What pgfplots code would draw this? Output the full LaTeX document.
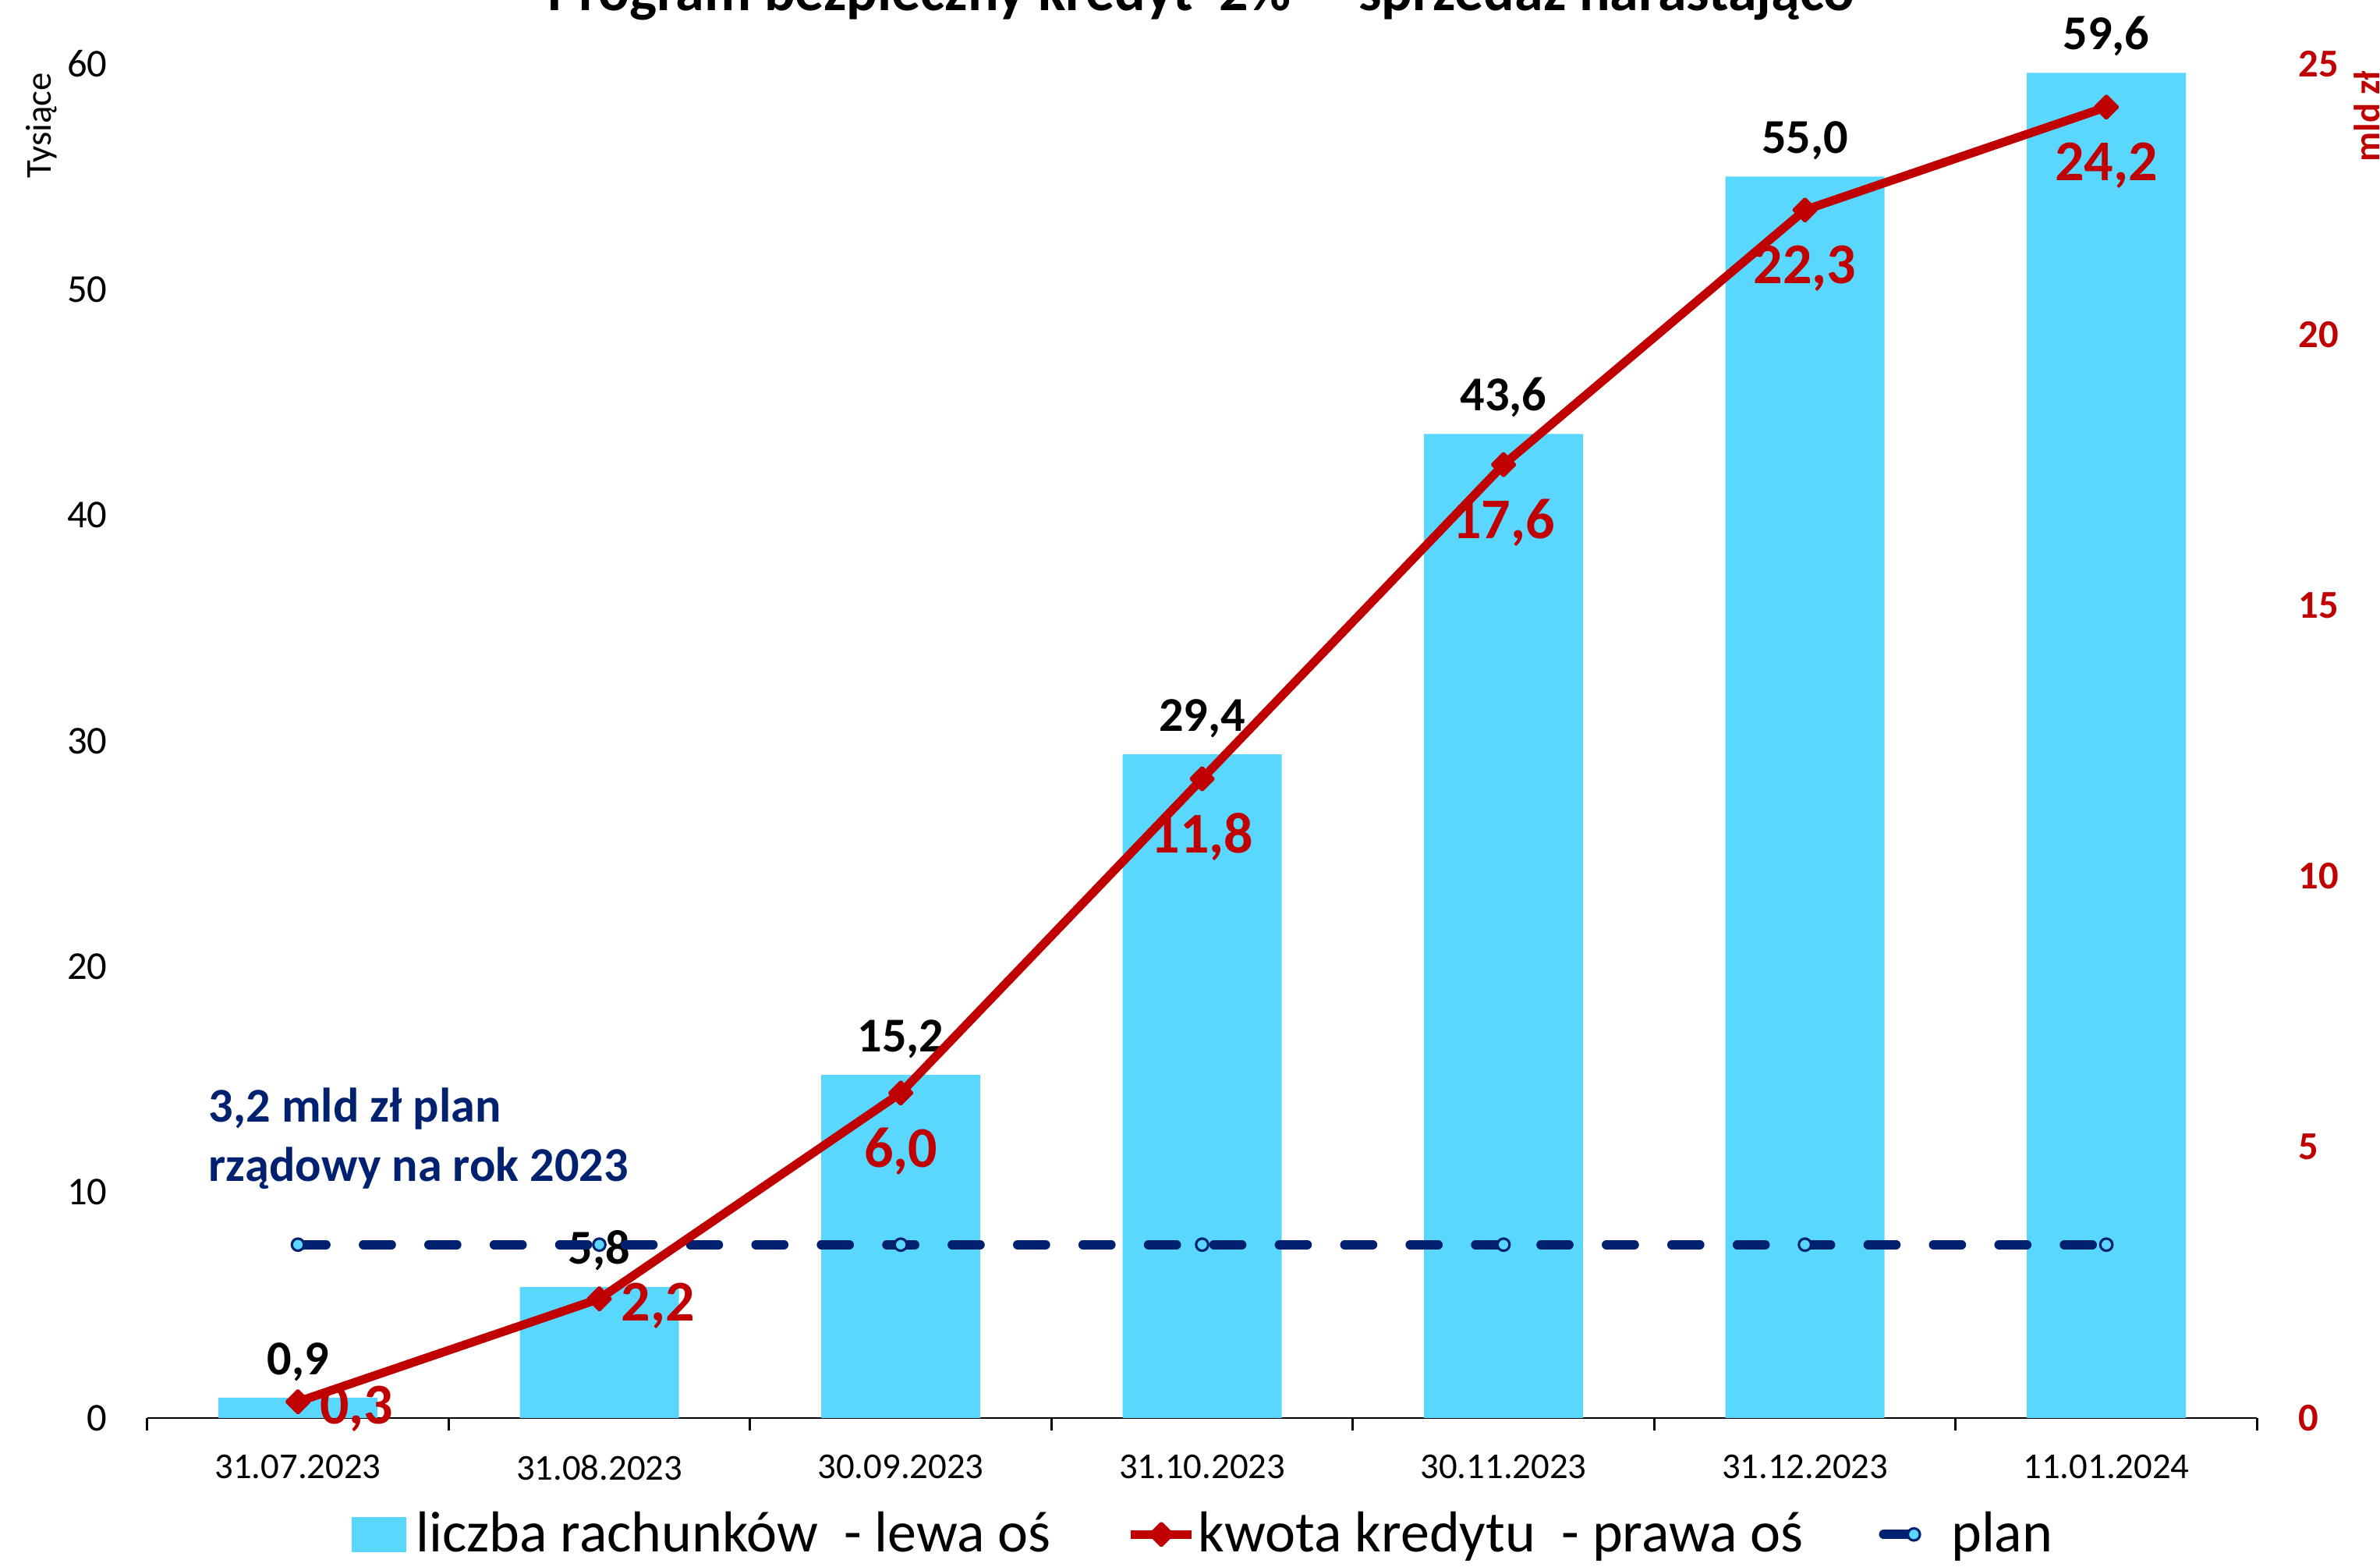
\documentclass[border=0pt]{standalone}
\usepackage{pgfplots}
\pgfplotsset{compat=1.18}
\usepackage{fontspec}
\setmainfont{Carlito}
\definecolor{barcyan}{RGB}{90,215,255}
\definecolor{kred}{RGB}{192,0,0}
\definecolor{navy}{RGB}{0,32,112}
\begin{document}
\begin{tikzpicture}
\begin{axis}[
  scale only axis, width=695pt, height=446pt,
  at={(0pt,0pt)}, anchor=south west,
  clip=false,
  xmin=-0.5, xmax=6.5, ymin=0, ymax=60,
  axis x line*=bottom, axis y line*=left,
  x axis line style={-, line width=0.7pt, black},
  y axis line style={draw=none},
  xtick={0,1,2,3,4,5,6},
  xticklabels={31.07.2023,31.08.2023,30.09.2023,31.10.2023,30.11.2023,31.12.2023,11.01.2024},
  xtick style={draw=none},
  xticklabel style={font=\fontsize{12}{12}\selectfont, inner sep=0pt, anchor=north, yshift=-12pt},
  extra x ticks={-0.5,0.5,1.5,2.5,3.5,4.5,5.5,6.5},
  extra x tick labels={},
  extra x tick style={xtick align=outside, major tick length=4pt, xtick style={draw=black, line width=0.7pt}},
  ytick={0,10,20,30,40,50,60},
  ytick style={draw=none},
  yticklabel style={font=\fontsize{13}{13}\selectfont, inner sep=0pt, anchor=east, xshift=-13pt},
  /pgf/number format/assume math mode=true,
]
\addplot[ybar, bar width=52.4pt, fill=barcyan, draw=none,
  nodes near coords={\pgfmathprintnumber[fixed,fixed zerofill,precision=1,use comma]{\pgfplotspointmeta}},
  every node near coord/.append style={font=\fontsize{16}{16}\selectfont\bfseries, text=black, anchor=base, inner sep=0pt, yshift=7.6pt}]
coordinates {(0,0.9) (1,5.8) (2,15.2) (3,29.4) (4,43.6) (5,55.0) (6,59.6)};
\end{axis}
\begin{axis}[
  scale only axis, width=695pt, height=446pt,
  at={(0pt,0pt)}, anchor=south west,
  clip=false,
  xmin=-0.5, xmax=6.5, ymin=0, ymax=25,
  axis x line=none, axis y line*=right,
  y axis line style={draw=none},
  ytick={0,5,10,15,20,25},
  ytick style={draw=none},
  yticklabel style={font=\fontsize{13}{13}\selectfont\bfseries, text=kred, inner sep=0pt, anchor=west, xshift=13.5pt},
  /pgf/number format/assume math mode=true,
  legend columns=3,
  legend cell align=left,
  legend style={at={(0.5,0)}, anchor=north, yshift=-31pt, draw=none, fill=none,
    inner sep=0pt, outer sep=0pt,
    font=\fontsize{19}{19}\selectfont,
    nodes={inner sep=0pt},
    /tikz/every odd column/.append style={column sep=0.8pt},
    /tikz/every even column/.append style={column sep=25pt}},
]
\addlegendimage{legend image code/.code={\fill[barcyan] (0pt,-5.6pt) rectangle (17.5pt,5.6pt); \path (20pt,0pt);}}
\addlegendentry{liczba rachunków~ - lewa oś}
\addlegendimage{legend image code/.code={%
  \draw[kred, line width=2.85pt] (0pt,0pt) -- (20pt,0pt);
  \draw[kred, mark=square*, mark size=2.6pt, mark options={rotate=45, solid, line width=1pt, line join=round, fill=kred, draw=kred}] plot coordinates {(10pt,0pt)};}}
\addlegendentry{kwota kredytu~ - prawa oś}
\addlegendimage{legend image code/.code={%
  \draw[navy, line width=3pt, dash pattern=on 9.25pt off 12.3pt, line cap=round] (0pt,0pt) -- (20pt,0pt);
  \draw[navy, mark=*, mark size=2pt, mark options={solid, fill=barcyan, draw=navy, line width=0.8pt}] plot coordinates {(10pt,0pt)};}}
\addlegendentry{plan}
% plan line
\addplot[forget plot, navy, line width=3pt, dash pattern=on 9.25pt off 12.3pt, line cap=round,
  mark=*, mark size=2pt, mark options={solid, fill=barcyan, draw=navy, line width=0.8pt}]
coordinates {(0,3.2) (1,3.2) (2,3.2) (3,3.2) (4,3.2) (5,3.2) (6,3.2)};
% kwota kredytu
\addplot[forget plot, kred, line width=2.85pt, line join=round,
  mark=square*, mark size=2.6pt, mark options={rotate=45, solid, line width=1pt, line join=round, fill=kred, draw=kred},
  nodes near coords={\pgfmathprintnumber[fixed,fixed zerofill,precision=1,use comma]{\pgfplotspointmeta}},
  every node near coord/.append style={font=\fontsize{19}{19}\selectfont\bfseries, text=kred, anchor=center, inner sep=0pt, yshift=-19.15pt},
  coordinate style/.condition={x<1.5}{xshift=19.3pt, yshift=16.9pt}]
coordinates {(0,0.3) (1,2.2) (2,6.0) (3,11.8) (4,17.6) (5,22.3) (6,24.2)};
\node[anchor=base west, inner sep=0pt, text=navy, font=\fontsize{16}{16}\selectfont\bfseries] at (axis cs:-0.2976,5.46) {3,2 mld zł plan};
\node[anchor=base west, inner sep=0pt, text=navy, font=\fontsize{16}{16}\selectfont\bfseries] at (axis cs:-0.2976,4.37) {rządowy na rok 2023};
\end{axis}
\node[anchor=base, inner sep=0pt, font=\fontsize{19}{19}\selectfont\bfseries] at (347.25pt,463.6pt) {Program bezpieczny kredyt~ 2\%~ – sprzedaż narastająco};
\node[anchor=base, inner sep=0pt, rotate=90, font=\fontsize{12}{12}\selectfont] at (-31.8pt,425.6pt) {Tysiące};
\node[anchor=base, inner sep=0pt, rotate=90, text=kred, font=\fontsize{12}{12}\selectfont\bfseries] at (735.4pt,428.7pt) {mld zł};
\pgfresetboundingbox
\useasboundingbox (-48.5pt,-49pt) rectangle (735.5pt,467pt);
\end{tikzpicture}
\end{document}
